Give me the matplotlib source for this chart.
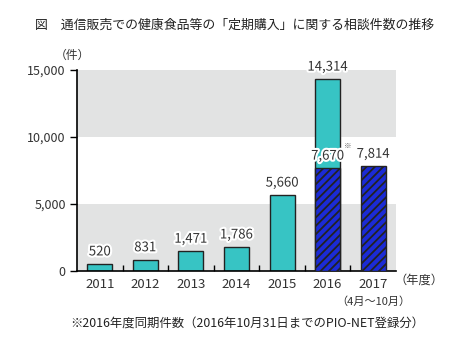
import matplotlib
matplotlib.use('Agg')
import matplotlib.pyplot as plt
import matplotlib.patheffects as pe

plt.rcParams['font.family'] = ['Noto Sans CJK JP', 'DejaVu Sans']
plt.rcParams['hatch.color'] = 'white'
plt.rcParams['hatch.linewidth'] = 1.3

years = ['2011', '2012', '2013', '2014', '2015', '2016', '2017']
totals = [520, 831, 1471, 1786, 5660, 14314, None]
same_period = [None, None, None, None, None, 7670, 7814]
labels = ['520', '831', '1,471', '1,786', '5,660', '14,314', '7,814']

teal = '#37c4c4'
blue = '#1b2bd6'
grey = '#e2e3e3'

fig = plt.figure(figsize=(4.72, 3.43), dpi=100)
ax = fig.add_axes([0.163, 0.21, 0.676, 0.586])

# background bands
ax.axhspan(0, 5000, color=grey, zorder=0, lw=0)
ax.axhspan(10000, 15000, color=grey, zorder=0, lw=0)

w = 0.55
for i, (t, s) in enumerate(zip(totals, same_period)):
    if t is not None:
        ax.bar(i, t, width=w, color=teal, edgecolor='#222222', lw=1, zorder=2)
    if s is not None:
        ax.bar(i, s, width=w, color=blue, edgecolor='#222222', lw=1,
               hatch='////', zorder=3)

stroke = [pe.withStroke(linewidth=3, foreground='white')]
for i, lab in enumerate(labels):
    top = totals[i] if totals[i] is not None else same_period[i]
    ax.annotate(lab, (i, top), xytext=(0, 4), textcoords='offset points',
                ha='center', va='bottom', fontsize=9.5, color='#333333',
                path_effects=stroke, zorder=5)
ax.annotate('7,670', (5, same_period[5]), xytext=(0, 4), textcoords='offset points',
            ha='center', va='bottom', fontsize=9.5, color='#333333',
            path_effects=stroke, zorder=5)
ax.annotate('※', (5, same_period[5]), xytext=(14.5, 13), textcoords='offset points',
            ha='center', va='bottom', fontsize=5.5, color='#555555', zorder=5)

ax.set_xlim(-0.5, 6.5)
ax.set_ylim(0, 15000)
ax.set_yticks([0, 5000, 10000, 15000])
ax.set_yticklabels(['0', '5,000', '10,000', '15,000'], fontsize=9, color='#333333')
ax.set_xticks(range(7))
ax.set_xticklabels(years, fontsize=9.5, color='#333333')
ax.tick_params(axis='x', length=0, pad=5)
ax.set_xticks([k + 0.5 for k in range(6)], minor=True)
ax.tick_params(axis='x', which='minor', direction='in', length=4, width=1)
ax.tick_params(axis='y', direction='out', length=5, width=1, pad=3)

for sp in ['top', 'right']:
    ax.spines[sp].set_visible(False)
ax.spines['left'].set_linewidth(1.2)
ax.spines['bottom'].set_linewidth(1.2)

ax.annotate('（4月～10月）', (6, 0), xytext=(0, -18), textcoords='offset points',
            ha='center', va='top', fontsize=8, color='#333333',
            annotation_clip=False)

fig.text(0.074, 0.925, '図　通信販売での健康食品等の「定期購入」に関する相談件数の推移',
         fontsize=9.3, color='#222222', va='center')
fig.text(0.115, 0.838, '（件）', fontsize=8.5, color='#333333', va='center')
fig.text(0.835, 0.182, '（年度）', fontsize=8.8, color='#333333', va='center')
fig.text(0.148, 0.058, '※2016年度同期件数（2016年10月31日までのPIO-NET登録分）',
         fontsize=8.9, color='#222222', va='center')

fig.savefig('out.png', dpi=100)
